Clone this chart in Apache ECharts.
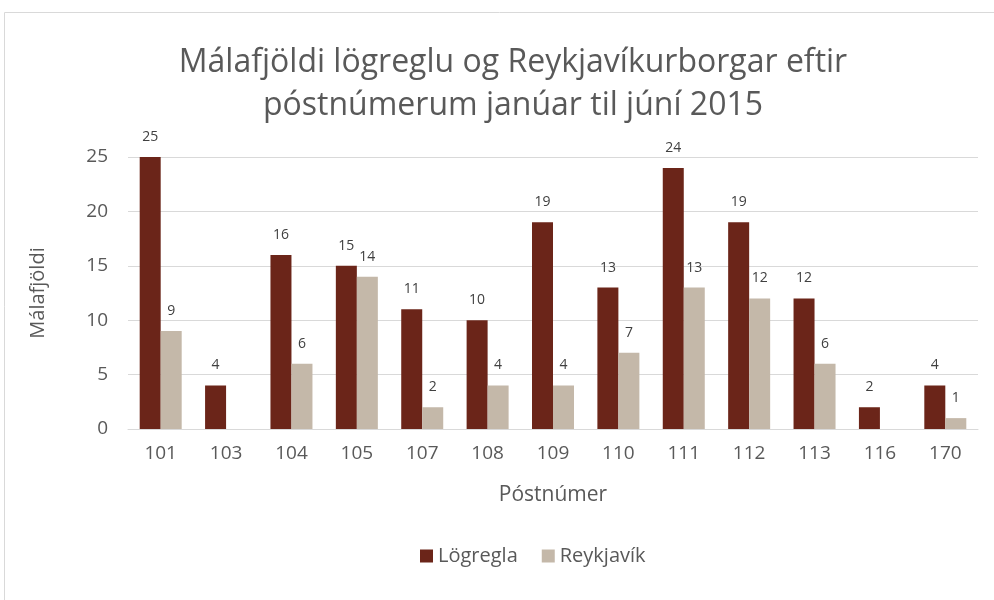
<!DOCTYPE html>
<html>
<head>
<meta charset="utf-8">
<script src="https://cdn.jsdelivr.net/npm/echarts@6/dist/echarts.min.js"></script>
<style>
  html, body { margin: 0; padding: 0; background: #fff; }
  #main { width: 994px; height: 600px; }
</style>
</head>
<body>
<div id="main"></div>
<script>
// póstnúmer á x-ás
const postnumer = ['101', '103', '104', '105', '107', '108', '109', '110', '111', '112', '113', '116', '170'];
// málafjöldi
const logregla = [25, 4, 16, 15, 11, 10, 19, 13, 24, 19, 12, 2, 4];
const reykjavik = [9, null, 6, 14, 2, 4, 4, 7, 13, 12, 6, null, 1];

const font = 'Open Sans';
const textColor = '#595959';

const chart = echarts.init(document.getElementById('main'));

chart.setOption({
  animation: false,
  textStyle: { fontFamily: font },
  graphic: [{
    type: 'rect',
    shape: { x: 4.5, y: 12.5, width: 990, height: 590 },
    style: { fill: 'none', stroke: '#D9D9D9', lineWidth: 1 },
    silent: true
  }],
  title: {
    text: 'Málafjöldi lögreglu og Reykjavíkurborgar eftir\npóstnúmerum janúar til júní 2015',
    left: 508,
    textAlign: 'center',
    top: 36,
    textStyle: { fontFamily: font, fontSize: 32, fontWeight: 'normal', color: textColor, lineHeight: 43 }
  },
  legend: {
    bottom: 29,
    left: 415,
    itemWidth: 13,
    itemHeight: 13,
    itemGap: 24,
    icon: 'rect',
    textStyle: { fontFamily: font, fontSize: 20, color: textColor },
    data: ['Lögregla', 'Reykjavík']
  },
  grid: { left: 128, right: 16, top: 157, bottom: 171 },
  xAxis: {
    type: 'category',
    data: postnumer,
    name: 'Póstnúmer',
    nameLocation: 'middle',
    nameGap: 56,
    nameTextStyle: { fontFamily: font, fontSize: 21, color: textColor },
    axisLine: { lineStyle: { color: '#D9D9D9', width: 1 } },
    axisTick: { show: false },
    axisLabel: { fontFamily: font, fontSize: 19, color: textColor, margin: 15 }
  },
  yAxis: {
    type: 'value',
    min: 0,
    max: 25,
    interval: 5,
    name: 'Málafjöldi',
    nameLocation: 'middle',
    nameGap: 80,
    nameTextStyle: { fontFamily: font, fontSize: 20, color: textColor },
    axisLine: { show: false },
    axisTick: { show: false },
    axisLabel: { fontFamily: font, fontSize: 19, color: textColor, margin: 20 },
    splitLine: { lineStyle: { color: '#D9D9D9', width: 1 } }
  },
  series: [
    {
      name: 'Lögregla',
      type: 'bar',
      data: logregla,
      barWidth: 21,
      barGap: '0%',
      itemStyle: { color: '#6B2519' },
      label: { show: true, position: 'top', distance: 13, fontFamily: font, fontSize: 14, color: '#404040' }
    },
    {
      name: 'Reykjavík',
      type: 'bar',
      data: reykjavik,
      barWidth: 21,
      itemStyle: { color: '#C4B8A9' },
      label: { show: true, position: 'top', distance: 13, fontFamily: font, fontSize: 14, color: '#404040' }
    }
  ]
});
</script>
</body>
</html>
